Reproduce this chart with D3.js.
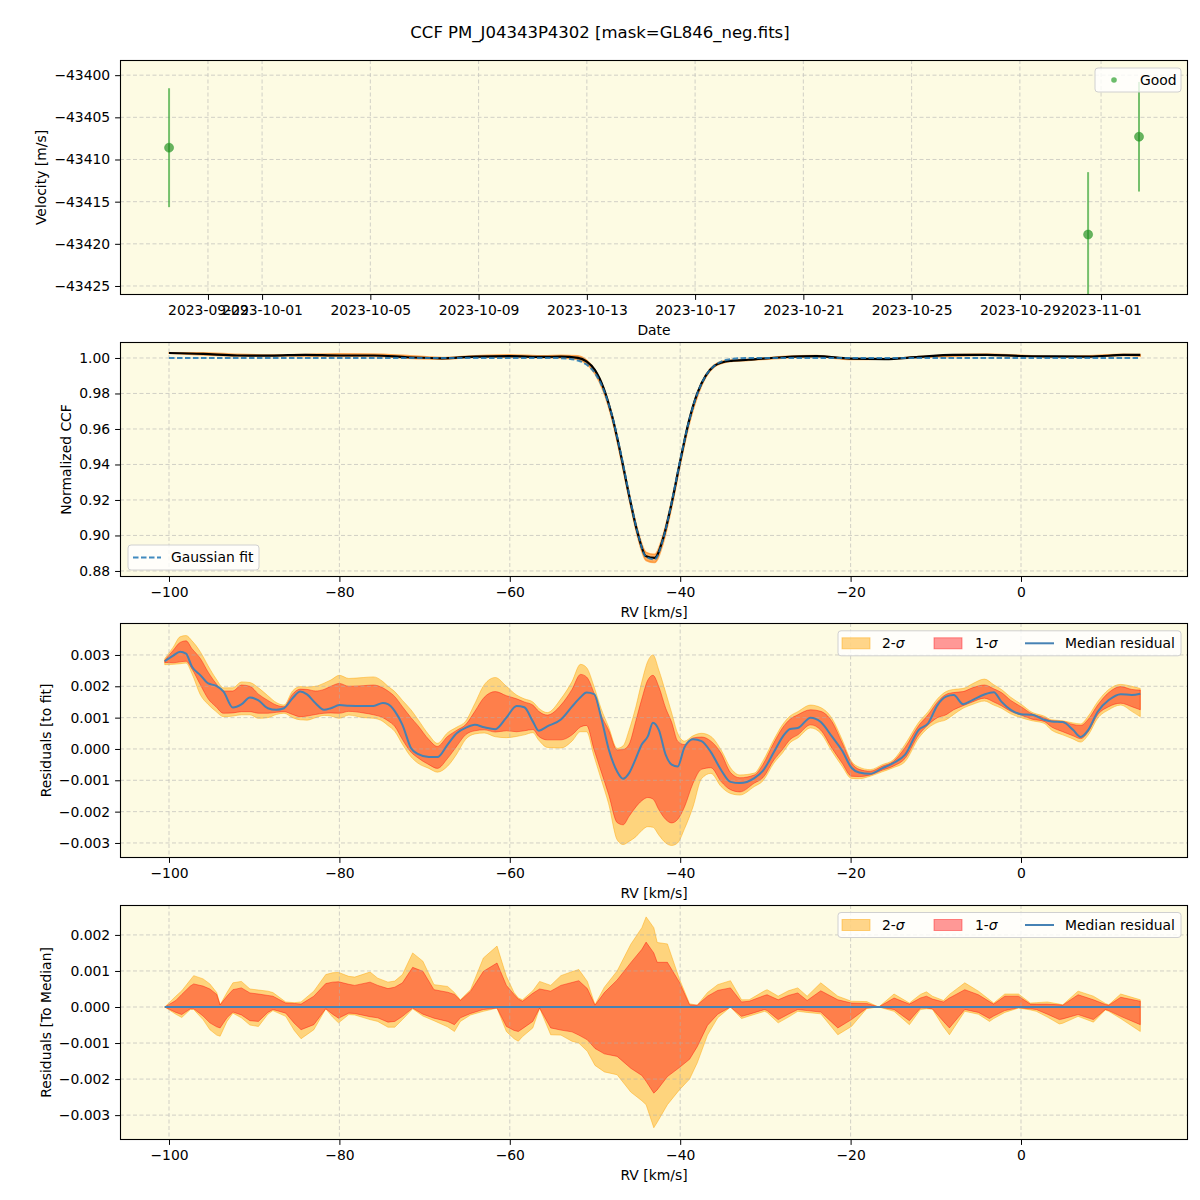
<!DOCTYPE html>
<html><head><meta charset="utf-8">
<script src="https://cdn.jsdelivr.net/npm/d3@7"></script>
<style>
body{margin:0;background:#fff}
text{font-family:"DejaVu Sans",sans-serif}
</style>
</head><body>
<svg id="c" width="1200" height="1200"></svg>
<script>
// ---------------- DATA ----------------
const titleText = "CCF PM_J04343P4302 [mask=GL846_neg.fits]";

// Panel 1: velocity time series
const obsDates = ["2023-09-27T13:30:00Z", "2023-10-31T12:30:00Z", "2023-11-02T09:40:00Z"];
const obsVel = [-43408.6, -43418.9, -43407.3];
const obsErr = [7.05, 7.4, 6.5];
const dateTickLabels = ["2023-09-29","2023-10-01","2023-10-05","2023-10-09","2023-10-13","2023-10-17","2023-10-21","2023-10-25","2023-10-29","2023-11-01"];
const velTicks = [-43400,-43405,-43410,-43415,-43420,-43425];

// Panel 2: CCF
const rvCCF = [-100,-96,-92,-88,-84,-80,-76,-72,-68,-64,-60,-56,
  -54,-52,-51,-50,-49,-48,-47,-46,-45,-44,-43,-42,-41,-40,-39,-38,-37,-36,-35,-34,
  -32,-28,-24,-20,-16,-12,-8,-4,0,4,8,12,14];
const gaussFit = [1,1,1,1,1,1,1,1,1,1,1,1,
  0.9999,0.9986,0.9963,0.9914,0.9822,0.9675,0.9470,0.9234,0.9017,0.8879,0.8866,0.8981,0.9187,0.9424,0.9638,0.9798,0.9900,0.9956,0.9983,0.9994,
  1,1,1,1,1,1,1,1,1,1,1,1,1];
const ccfMedian = [1.0028,1.0023,1.0014,1.0013,1.0018,1.0014,1.0014,1.0004,0.9998,1.0008,1.0010,1.0006,
  1.0008,1.0001,0.9981,0.9932,0.9832,0.9674,0.9462,0.9226,0.9015,0.8883,0.8874,0.8984,0.9183,0.9419,0.9640,0.9801,0.9901,0.9955,0.9976,0.9984,
  0.9990,1.0004,1.0010,0.9996,0.9994,1.0006,1.0017,1.0018,1.0011,1.0009,1.0008,1.0017,1.0018];
const ccfLow = [1.0027,1.0017,1.0011,1.0011,1.0010,1.0010,1.0010,0.9998,0.9993,1.0004,1.0004,1.0001,
  1.0000,0.9992,0.9967,0.9911,0.9810,0.9653,0.9440,0.9206,0.8993,0.8859,0.8847,0.8955,0.9157,0.9396,0.9615,0.9779,0.9891,0.9949,0.9971,0.9980,
  0.9986,0.9999,1.0007,0.9991,0.9994,1.0002,1.0009,1.0015,1.0010,1.0005,1.0005,1.0014,1.0010];
const ccfHigh = [1.0029,1.0030,1.0021,1.0017,1.0020,1.0024,1.0023,1.0014,1.0003,1.0013,1.0018,1.0012,
  1.0016,1.0012,0.9988,0.9933,0.9832,0.9679,0.9471,0.9240,0.9032,0.8905,0.8894,0.9004,0.9198,0.9427,0.9642,0.9803,0.9905,0.9961,0.9983,0.9989,
  0.9991,1.0008,1.0014,0.9996,0.9996,1.0008,1.0018,1.0022,1.0015,1.0009,1.0013,1.0021,1.0019];
const ccfTicks = [0.88,0.90,0.92,0.94,0.96,0.98,1.00];
const rvTicks = [-100,-80,-60,-40,-20,0];

// Panel 3: residuals to fit
const rvRes = [-100.5,-99.5,-98.7,-98.0,-97.3,-96.3,-95.4,-94.5,-93.6,-92.5,
  -91.5,-90.5,-89.5,-88.4,-87.4,-86.5,-85.5,-84.6,-83.8,-82.8,
  -81.8,-81.0,-80.0,-78.9,-77.2,-76.0,-74.9,-74.3,-73.5,-72.6,
  -71.6,-70.8,-69.5,-68.5,-67.3,-66.2,-65.2,-64.1,-63.0,-61.7,
  -60.4,-59.2,-58.3,-57.3,-56.6,-55.6,-54.0,-52.7,-51.7,-51.0,
  -50.1,-49.3,-48.4,-47.4,-46.7,-46.0,-45.2,-44.5,-43.8,-43.2,
  -42.5,-41.7,-41.0,-40.3,-39.5,-38.5,-37.5,-36.4,-35.2,-34.1,
  -33.0,-31.3,-30.3,-29.0,-28.0,-27.1,-26.2,-24.7,-23.5,-22.2,
  -21.0,-19.9,-19.0,-17.7,-16.3,-15.0,-13.6,-12.0,-10.9,-9.8,
  -8.8,-7.9,-6.8,-5.7,-4.3,-3.2,-2.3,-1.2,0.0,1.3,
  2.7,3.6,4.9,6.1,7.0,7.9,9.0,10.3,11.7,13.0,
  14.0];
const resMedian = [2.80e-3,2.98e-3,3.10e-3,3.04e-3,2.62e-3,2.35e-3,2.09e-3,2.02e-3,1.83e-3,1.32e-3,
  1.42e-3,1.64e-3,1.55e-3,1.30e-3,1.25e-3,1.30e-3,1.62e-3,1.83e-3,1.74e-3,1.46e-3,
  1.25e-3,1.30e-3,1.40e-3,1.38e-3,1.37e-3,1.37e-3,1.47e-3,1.43e-3,1.21e-3,0.77e-3,
  0.03e-3,-0.16e-3,-0.26e-3,-0.26e-3,0.14e-3,0.51e-3,0.67e-3,0.77e-3,0.69e-3,0.63e-3,
  1.00e-3,1.37e-3,1.33e-3,0.88e-3,0.58e-3,0.72e-3,0.94e-3,1.35e-3,1.65e-3,1.80e-3,
  1.75e-3,1.03e-3,0.00e-3,-0.72e-3,-0.95e-3,-0.77e-3,-0.30e-3,0.15e-3,0.40e-3,0.84e-3,
  0.60e-3,-0.19e-3,-0.50e-3,-0.56e-3,0.05e-3,0.31e-3,0.25e-3,-0.10e-3,-0.67e-3,-1.05e-3,
  -1.09e-3,-0.93e-3,-0.70e-3,-0.10e-3,0.38e-3,0.64e-3,0.67e-3,1.00e-3,0.86e-3,0.40e-3,
  -0.05e-3,-0.60e-3,-0.75e-3,-0.79e-3,-0.62e-3,-0.45e-3,-0.18e-3,0.61e-3,0.82e-3,1.40e-3,
  1.67e-3,1.72e-3,1.43e-3,1.56e-3,1.74e-3,1.81e-3,1.51e-3,1.25e-3,1.11e-3,1.09e-3,
  0.93e-3,0.88e-3,0.86e-3,0.61e-3,0.38e-3,0.61e-3,1.19e-3,1.56e-3,1.75e-3,1.72e-3,
  1.76e-3];
const res1Low = [2.76e-3,2.75e-3,2.78e-3,2.80e-3,2.55e-3,2.04e-3,1.60e-3,1.35e-3,1.14e-3,1.15e-3,
  1.19e-3,1.19e-3,1.14e-3,1.14e-3,1.17e-3,1.19e-3,1.10e-3,1.03e-3,1.05e-3,1.10e-3,
  1.14e-3,1.15e-3,1.14e-3,1.20e-3,1.15e-3,1.09e-3,1.00e-3,0.90e-3,0.72e-3,0.30e-3,
  -0.10e-3,-0.28e-3,-0.50e-3,-0.62e-3,-0.30e-3,0.10e-3,0.45e-3,0.58e-3,0.61e-3,0.54e-3,
  0.58e-3,0.55e-3,0.58e-3,0.62e-3,0.40e-3,0.29e-3,0.29e-3,0.45e-3,0.70e-3,0.75e-3,
  -0.03e-3,-0.70e-3,-1.45e-3,-2.35e-3,-2.42e-3,-2.15e-3,-1.85e-3,-1.65e-3,-1.55e-3,-1.60e-3,
  -1.94e-3,-2.25e-3,-2.36e-3,-2.25e-3,-1.85e-3,-1.10e-3,-0.65e-3,-0.60e-3,-1.04e-3,-1.30e-3,
  -1.37e-3,-1.09e-3,-0.92e-3,-0.35e-3,-0.02e-3,0.30e-3,0.45e-3,0.77e-3,0.60e-3,0.03e-3,
  -0.45e-3,-0.87e-3,-0.88e-3,-0.83e-3,-0.68e-3,-0.55e-3,-0.30e-3,0.45e-3,0.77e-3,1.00e-3,
  1.09e-3,1.25e-3,1.38e-3,1.50e-3,1.62e-3,1.50e-3,1.38e-3,1.20e-3,1.08e-3,0.95e-3,
  0.88e-3,0.70e-3,0.55e-3,0.42e-3,0.33e-3,0.55e-3,1.09e-3,1.35e-3,1.46e-3,1.35e-3,
  1.25e-3];
const res1High = [2.83e-3,3.15e-3,3.40e-3,3.45e-3,3.20e-3,2.88e-3,2.45e-3,2.10e-3,1.85e-3,1.85e-3,
  2.04e-3,2.00e-3,1.75e-3,1.55e-3,1.40e-3,1.35e-3,1.75e-3,1.91e-3,1.90e-3,1.85e-3,
  1.90e-3,2.00e-3,2.09e-3,2.00e-3,2.02e-3,2.04e-3,1.95e-3,1.85e-3,1.67e-3,1.35e-3,
  1.00e-3,0.75e-3,0.30e-3,0.08e-3,0.40e-3,0.60e-3,0.77e-3,1.20e-3,1.65e-3,1.83e-3,
  1.70e-3,1.60e-3,1.50e-3,1.40e-3,1.20e-3,1.08e-3,1.40e-3,1.90e-3,2.38e-3,2.30e-3,
  1.77e-3,1.10e-3,0.60e-3,-0.03e-3,-0.02e-3,0.15e-3,0.90e-3,1.60e-3,2.20e-3,2.35e-3,
  1.98e-3,1.30e-3,0.85e-3,0.25e-3,0.14e-3,0.35e-3,0.38e-3,0.25e-3,-0.14e-3,-0.75e-3,
  -0.92e-3,-0.83e-3,-0.50e-3,0.20e-3,0.67e-3,0.95e-3,1.09e-3,1.25e-3,1.20e-3,0.88e-3,
  0.20e-3,-0.44e-3,-0.65e-3,-0.71e-3,-0.55e-3,-0.40e-3,0.05e-3,0.75e-3,1.09e-3,1.50e-3,
  1.74e-3,1.80e-3,1.83e-3,1.95e-3,2.04e-3,1.92e-3,1.80e-3,1.55e-3,1.35e-3,1.12e-3,
  1.00e-3,0.90e-3,0.88e-3,0.78e-3,0.75e-3,0.95e-3,1.40e-3,1.80e-3,1.99e-3,1.90e-3,
  1.88e-3];
const res2Low = [2.69e-3,2.70e-3,2.72e-3,2.74e-3,2.40e-3,1.72e-3,1.42e-3,1.20e-3,1.03e-3,1.05e-3,
  1.09e-3,1.09e-3,0.98e-3,1.00e-3,1.10e-3,1.14e-3,1.00e-3,0.93e-3,0.92e-3,1.00e-3,
  1.07e-3,1.05e-3,0.98e-3,1.08e-3,1.00e-3,0.98e-3,0.88e-3,0.75e-3,0.56e-3,0.15e-3,
  -0.25e-3,-0.45e-3,-0.62e-3,-0.74e-3,-0.55e-3,-0.15e-3,0.30e-3,0.48e-3,0.51e-3,0.39e-3,
  0.36e-3,0.40e-3,0.45e-3,0.52e-3,0.28e-3,0.05e-3,0.03e-3,0.25e-3,0.55e-3,0.55e-3,
  -0.24e-3,-0.95e-3,-1.75e-3,-2.90e-3,-3.05e-3,-2.95e-3,-2.80e-3,-2.60e-3,-2.48e-3,-2.50e-3,
  -2.75e-3,-3.00e-3,-3.08e-3,-3.00e-3,-2.55e-3,-1.85e-3,-0.95e-3,-0.78e-3,-1.20e-3,-1.42e-3,
  -1.47e-3,-1.20e-3,-1.02e-3,-0.45e-3,-0.13e-3,0.20e-3,0.35e-3,0.67e-3,0.50e-3,-0.07e-3,
  -0.55e-3,-0.94e-3,-0.95e-3,-0.87e-3,-0.73e-3,-0.60e-3,-0.40e-3,0.35e-3,0.67e-3,0.85e-3,
  0.93e-3,1.10e-3,1.30e-3,1.42e-3,1.53e-3,1.40e-3,1.30e-3,1.12e-3,1.00e-3,0.90e-3,
  0.82e-3,0.60e-3,0.45e-3,0.32e-3,0.22e-3,0.45e-3,0.98e-3,1.25e-3,1.40e-3,1.20e-3,
  1.03e-3];
const res2High = [2.88e-3,3.25e-3,3.58e-3,3.62e-3,3.45e-3,3.09e-3,2.65e-3,2.25e-3,1.95e-3,1.95e-3,
  2.14e-3,2.12e-3,1.95e-3,1.70e-3,1.48e-3,1.40e-3,1.85e-3,1.99e-3,1.98e-3,2.00e-3,
  2.10e-3,2.20e-3,2.35e-3,2.25e-3,2.28e-3,2.30e-3,2.15e-3,2.00e-3,1.83e-3,1.55e-3,
  1.25e-3,0.95e-3,0.45e-3,0.18e-3,0.52e-3,0.70e-3,0.88e-3,1.45e-3,2.05e-3,2.28e-3,
  2.00e-3,1.72e-3,1.60e-3,1.50e-3,1.30e-3,1.16e-3,1.60e-3,2.15e-3,2.70e-3,2.60e-3,
  1.98e-3,1.30e-3,0.70e-3,0.02e-3,0.10e-3,0.60e-3,1.35e-3,2.15e-3,2.80e-3,3.00e-3,
  2.51e-3,1.80e-3,1.15e-3,0.50e-3,0.25e-3,0.42e-3,0.50e-3,0.40e-3,-0.03e-3,-0.60e-3,
  -0.83e-3,-0.77e-3,-0.39e-3,0.30e-3,0.77e-3,1.05e-3,1.19e-3,1.40e-3,1.32e-3,0.98e-3,
  0.30e-3,-0.39e-3,-0.58e-3,-0.66e-3,-0.50e-3,-0.35e-3,0.15e-3,0.85e-3,1.19e-3,1.60e-3,
  1.83e-3,1.90e-3,1.93e-3,2.08e-3,2.23e-3,2.05e-3,1.90e-3,1.65e-3,1.43e-3,1.17e-3,
  1.05e-3,0.93e-3,0.90e-3,0.83e-3,0.80e-3,1.05e-3,1.51e-3,1.90e-3,2.06e-3,2.00e-3,
  1.93e-3];
const resTicks = [-0.003,-0.002,-0.001,0,0.001,0.002,0.003];

// Panel 4: residuals to median
const rvMed = [-100.5,-99.2,-98.5,-97.5,-97.1,-96.0,-95.2,-94.4,-94.0,-93.2,
  -92.5,-91.5,-90.5,-89.5,-88.4,-87.8,-86.3,-85.3,-84.5,-83.0,
  -81.6,-80.8,-80.1,-78.9,-78.2,-76.4,-75.5,-74.3,-73.5,-72.6,
  -71.4,-70.2,-68.9,-67.3,-66.5,-65.8,-64.6,-63.1,-61.5,-60.4,
  -59.5,-59.0,-58.5,-57.3,-56.5,-55.2,-54.0,-52.7,-51.9,-50.9,
  -50.0,-48.9,-47.4,-45.8,-44.5,-44.0,-43.1,-42.7,-41.5,-40.1,
  -38.9,-38.0,-36.8,-35.6,-34.1,-32.8,-31.9,-30.1,-29.8,-28.5,
  -27.3,-26.2,-25.1,-23.5,-21.5,-19.9,-18.1,-16.7,-14.9,-13.1,
  -11.8,-11.1,-10.4,-9.1,-8.4,-6.6,-5.0,-3.7,-3.2,-1.9,
  -0.3,1.1,1.8,3.1,4.5,4.9,6.7,8.5,9.9,10.3,
  11.7,14.0];
const med2High = [0,0.30e-3,0.45e-3,0.75e-3,0.87e-3,0.78e-3,0.64e-3,0.40e-3,0.06e-3,0.40e-3,
  0.67e-3,0.71e-3,0.50e-3,0.47e-3,0.44e-3,0.40e-3,0.14e-3,0.12e-3,0.14e-3,0.44e-3,
  0.90e-3,0.95e-3,0.96e-3,0.85e-3,0.83e-3,0.97e-3,0.80e-3,0.69e-3,0.72e-3,0.90e-3,
  1.50e-3,1.27e-3,0.62e-3,0.57e-3,0.40e-3,0.20e-3,0.48e-3,1.36e-3,1.69e-3,0.85e-3,
  0.40e-3,0.25e-3,0.20e-3,0.45e-3,0.71e-3,0.60e-3,0.87e-3,0.98e-3,1.04e-3,0.71e-3,
  0.06e-3,0.55e-3,1.00e-3,1.74e-3,2.20e-3,2.50e-3,2.20e-3,1.79e-3,1.75e-3,0.78e-3,
  0.09e-3,0.05e-3,0.40e-3,0.62e-3,0.73e-3,0.20e-3,0.20e-3,0.45e-3,0.48e-3,0.30e-3,
  0.45e-3,0.53e-3,0.30e-3,0.67e-3,0.30e-3,0.16e-3,0.15e-3,0,0.36e-3,0.11e-3,
  0.35e-3,0.42e-3,0.30e-3,0.18e-3,0.35e-3,0.67e-3,0.44e-3,0.20e-3,0.11e-3,0.36e-3,
  0.36e-3,0.11e-3,0.12e-3,0.14e-3,0.08e-3,0.06e-3,0.44e-3,0.30e-3,0.10e-3,0.06e-3,
  0.36e-3,0.20e-3];
const med1High = [0,0.18e-3,0.35e-3,0.58e-3,0.64e-3,0.58e-3,0.50e-3,0.35e-3,0.06e-3,0.30e-3,
  0.48e-3,0.53e-3,0.39e-3,0.36e-3,0.32e-3,0.30e-3,0.11e-3,0.10e-3,0.08e-3,0.30e-3,
  0.65e-3,0.69e-3,0.70e-3,0.63e-3,0.60e-3,0.69e-3,0.60e-3,0.51e-3,0.55e-3,0.67e-3,
  1.10e-3,0.99e-3,0.48e-3,0.41e-3,0.35e-3,0.18e-3,0.44e-3,0.99e-3,1.22e-3,0.60e-3,
  0.35e-3,0.22e-3,0.16e-3,0.38e-3,0.50e-3,0.44e-3,0.60e-3,0.68e-3,0.73e-3,0.51e-3,
  0.05e-3,0.40e-3,0.75e-3,1.23e-3,1.60e-3,1.80e-3,1.50e-3,1.24e-3,1.24e-3,0.69e-3,
  0.06e-3,0.05e-3,0.30e-3,0.46e-3,0.53e-3,0.14e-3,0.16e-3,0.32e-3,0.34e-3,0.20e-3,
  0.32e-3,0.39e-3,0.18e-3,0.45e-3,0.20e-3,0.11e-3,0.10e-3,0,0.25e-3,0.08e-3,
  0.25e-3,0.30e-3,0.22e-3,0.14e-3,0.25e-3,0.48e-3,0.34e-3,0.15e-3,0.08e-3,0.30e-3,
  0.30e-3,0.08e-3,0.08e-3,0.08e-3,0.06e-3,0.05e-3,0.34e-3,0.20e-3,0.07e-3,0.05e-3,
  0.27e-3,0.16e-3];
const med1Low = [0,-0.15e-3,-0.21e-3,-0.05e-3,-0.05e-3,-0.25e-3,-0.44e-3,-0.55e-3,-0.58e-3,-0.30e-3,
  -0.14e-3,-0.22e-3,-0.38e-3,-0.40e-3,-0.15e-3,-0.07e-3,-0.17e-3,-0.45e-3,-0.63e-3,-0.49e-3,
  -0.05e-3,-0.20e-3,-0.31e-3,-0.17e-3,-0.18e-3,-0.27e-3,-0.30e-3,-0.42e-3,-0.40e-3,-0.26e-3,
  -0.03e-3,-0.20e-3,-0.31e-3,-0.40e-3,-0.49e-3,-0.30e-3,-0.18e-3,-0.07e-3,-0.03e-3,-0.54e-3,
  -0.65e-3,-0.68e-3,-0.60e-3,-0.40e-3,-0.03e-3,-0.58e-3,-0.64e-3,-0.69e-3,-0.78e-3,-0.91e-3,
  -1.15e-3,-1.30e-3,-1.37e-3,-1.70e-3,-1.90e-3,-2.06e-3,-2.39e-3,-2.30e-3,-1.93e-3,-1.68e-3,
  -1.45e-3,-1.10e-3,-0.51e-3,-0.20e-3,0,-0.26e-3,-0.20e-3,-0.07e-3,-0.10e-3,-0.35e-3,
  -0.20e-3,-0.07e-3,-0.10e-3,-0.14e-3,-0.58e-3,-0.35e-3,-0.03e-3,0,-0.07e-3,-0.38e-3,
  -0.03e-3,-0.03e-3,-0.05e-3,-0.40e-3,-0.58e-3,-0.07e-3,-0.15e-3,-0.32e-3,-0.25e-3,-0.10e-3,
  -0.02e-3,-0.05e-3,-0.07e-3,-0.20e-3,-0.35e-3,-0.33e-3,-0.21e-3,-0.35e-3,-0.07e-3,-0.10e-3,
  -0.26e-3,-0.49e-3];
const med2Low = [0,-0.20e-3,-0.29e-3,-0.07e-3,-0.07e-3,-0.35e-3,-0.63e-3,-0.78e-3,-0.81e-3,-0.40e-3,
  -0.17e-3,-0.30e-3,-0.50e-3,-0.54e-3,-0.20e-3,-0.10e-3,-0.26e-3,-0.65e-3,-0.88e-3,-0.63e-3,
  -0.05e-3,-0.28e-3,-0.44e-3,-0.21e-3,-0.22e-3,-0.35e-3,-0.40e-3,-0.56e-3,-0.56e-3,-0.35e-3,
  -0.05e-3,-0.25e-3,-0.38e-3,-0.55e-3,-0.68e-3,-0.40e-3,-0.22e-3,-0.12e-3,-0.03e-3,-0.68e-3,
  -0.88e-3,-0.95e-3,-0.82e-3,-0.58e-3,-0.03e-3,-0.77e-3,-0.78e-3,-0.95e-3,-1.00e-3,-1.23e-3,
  -1.62e-3,-1.80e-3,-1.88e-3,-2.36e-3,-2.60e-3,-2.71e-3,-3.35e-3,-3.20e-3,-2.71e-3,-2.30e-3,
  -2.00e-3,-1.55e-3,-0.78e-3,-0.30e-3,0,-0.32e-3,-0.25e-3,-0.12e-3,-0.15e-3,-0.44e-3,
  -0.28e-3,-0.12e-3,-0.15e-3,-0.19e-3,-0.77e-3,-0.54e-3,-0.04e-3,0,-0.12e-3,-0.49e-3,
  -0.07e-3,-0.05e-3,-0.06e-3,-0.55e-3,-0.77e-3,-0.12e-3,-0.20e-3,-0.40e-3,-0.32e-3,-0.15e-3,
  -0.03e-3,-0.08e-3,-0.12e-3,-0.28e-3,-0.47e-3,-0.45e-3,-0.26e-3,-0.42e-3,-0.08e-3,-0.12e-3,
  -0.32e-3,-0.68e-3];
const medLineRV = [-100.5, 14.0];
const medLineVal = [0, 0];
const medTicks = [-0.003,-0.002,-0.001,0,0.001,0.002];

// ---------------- LAYOUT / STYLE ----------------
const L = 120, R = 1188, PH = 235;
const tops = [60, 342, 623, 905];
const BG = "#fdfbe3";
const FS = 13.9;
const svg = d3.select("#c");
const defs = svg.append("defs");

svg.append("text").attr("x", 600).attr("y", 38).attr("text-anchor", "middle")
  .attr("font-size", 16.5).attr("fill", "#000").text(titleText);

function makePanel(i, x, y, xTicks, xFmt, yTicks, yFmt, xLabel, yLabel, yLabelX) {
  const top = tops[i], bottom = top + PH;
  const g = svg.append("g");
  g.append("rect").attr("x", L).attr("y", top).attr("width", R - L).attr("height", PH).attr("fill", BG);
  defs.append("clipPath").attr("id", "clip" + i).append("rect")
    .attr("x", L).attr("y", top).attr("width", R - L).attr("height", PH);
  const fills = g.append("g").attr("clip-path", `url(#clip${i})`);
  const grid = g.append("g").attr("stroke", "#b0b0b0").attr("stroke-width", 0.8)
    .attr("stroke-dasharray", "4,2.5").attr("opacity", 0.7);
  xTicks.forEach(t => grid.append("line").attr("x1", x(t)).attr("x2", x(t)).attr("y1", top).attr("y2", bottom));
  yTicks.forEach(t => grid.append("line").attr("x1", L).attr("x2", R).attr("y1", y(t)).attr("y2", y(t)));
  const lines = g.append("g").attr("clip-path", `url(#clip${i})`);
  const xa = g.append("g").attr("transform", `translate(0,${bottom})`)
    .call(d3.axisBottom(x).tickValues(xTicks).tickFormat(xFmt).tickSize(4.9).tickPadding(4.9));
  const ya = g.append("g").attr("transform", `translate(${L},0)`)
    .call(d3.axisLeft(y).tickValues(yTicks).tickFormat(yFmt).tickSize(4.9).tickPadding(4.9));
  [xa, ya].forEach(a => {
    a.select(".domain").remove();
    a.attr("font-size", FS).attr("font-family", '"DejaVu Sans", sans-serif');
    a.selectAll("line").attr("stroke", "#000").attr("stroke-width", 1);
    a.selectAll("text").attr("fill", "#000");
  });
  g.append("rect").attr("x", L + 0.5).attr("y", top + 0.5).attr("width", R - L - 1).attr("height", PH - 1)
    .attr("fill", "none").attr("stroke", "#000").attr("stroke-width", 1.1);
  g.append("text").attr("x", (L + R) / 2).attr("y", bottom + 40).attr("text-anchor", "middle")
    .attr("font-size", FS).text(xLabel);
  g.append("text").attr("transform", `translate(${yLabelX},${(top + bottom) / 2}) rotate(-90)`)
    .attr("text-anchor", "middle").attr("font-size", FS).text(yLabel);
  return { g, fills, lines, top, bottom };
}

function legendBox(g, x0, y0, w, h) {
  g.append("rect").attr("x", x0).attr("y", y0).attr("width", w).attr("height", h).attr("rx", 3)
    .attr("fill", "#fff").attr("fill-opacity", 0.8).attr("stroke", "#d0d0d0").attr("stroke-width", 1);
}

// ---------------- PANEL 1 ----------------
const parse = d3.utcParse("%Y-%m-%dT%H:%M:%SZ");
const parseDay = d3.utcParse("%Y-%m-%d");
const xT = d3.scaleUtc().domain([parse("2023-09-25T18:00:00Z"), parse("2023-11-04T05:06:00Z")]).range([L, R]);
const yV = d3.scaleLinear().domain([-43426.07, -43398.2]).range([tops[0] + PH, tops[0]]);
const tickDates = dateTickLabels.map(parseDay);
const p1 = makePanel(0, xT, yV, tickDates, d3.utcFormat("%Y-%m-%d"), velTicks, d3.format("d"),
  "Date", "Velocity [m/s]", 46);
const obs = obsDates.map((d, i) => ({ t: parse(d), v: obsVel[i], e: obsErr[i] }));
p1.lines.selectAll(".eb").data(obs).join("line")
  .attr("x1", d => xT(d.t)).attr("x2", d => xT(d.t))
  .attr("y1", d => yV(d.v - d.e)).attr("y2", d => yV(d.v + d.e))
  .attr("stroke", "#2ca02c").attr("stroke-opacity", 0.65).attr("stroke-width", 2);
p1.lines.selectAll(".pt").data(obs).join("circle")
  .attr("cx", d => xT(d.t)).attr("cy", d => yV(d.v)).attr("r", 4.5)
  .attr("fill", "#1a8a1a").attr("fill-opacity", 0.65).attr("stroke", "#2ca02c").attr("stroke-opacity", 0.5);
legendBox(p1.g, 1095, 68, 86, 24);
p1.g.append("circle").attr("cx", 1114).attr("cy", 80).attr("r", 2.8).attr("fill", "#2ca02c").attr("fill-opacity", 0.7);
p1.g.append("text").attr("x", 1140).attr("y", 80).attr("dy", "0.35em").attr("font-size", FS).text("Good");

// ---------------- PANELS 2-4 shared x ----------------
const xDom = [-105.75, 19.6];
const mkX = () => d3.scaleLinear().domain(xDom).range([L, R]);
const fmtRV = d3.format("d");

// ---------------- PANEL 2 ----------------
const x2 = mkX();
const y2 = d3.scaleLinear().domain([0.8766, 1.009]).range([tops[1] + PH, tops[1]]);
const p2 = makePanel(1, x2, y2, rvTicks, fmtRV, ccfTicks, d3.format(".2f"), "RV [km/s]", "Normalized CCF", 71);
const ccfRows = rvCCF.map((v, i) => ({ rv: v, fit: gaussFit[i], med: ccfMedian[i], lo: ccfLow[i], hi: ccfHigh[i] }));
p2.fills.append("path").datum(ccfRows)
  .attr("d", d3.area().x(d => x2(d.rv)).y0(d => y2(d.lo)).y1(d => y2(d.hi)).curve(d3.curveMonotoneX))
  .attr("fill", "#ff7f0e").attr("fill-opacity", 0.6).attr("stroke", "#ff7f0e").attr("stroke-opacity", 0.6).attr("stroke-width", 1.5);
p2.lines.append("path").datum(ccfRows)
  .attr("d", d3.line().x(d => x2(d.rv)).y(d => y2(d.med)).curve(d3.curveMonotoneX))
  .attr("fill", "none").attr("stroke", "#000").attr("stroke-width", 2.2);
p2.lines.append("path").datum(ccfRows)
  .attr("d", d3.line().x(d => x2(d.rv)).y(d => y2(d.fit)).curve(d3.curveMonotoneX))
  .attr("fill", "none").attr("stroke", "#1f77b4").attr("stroke-opacity", 0.85).attr("stroke-width", 2)
  .attr("stroke-dasharray", "5.5,2.5");
legendBox(p2.g, 128, 545, 131, 25);
p2.g.append("line").attr("x1", 133).attr("x2", 161).attr("y1", 557.5).attr("y2", 557.5)
  .attr("stroke", "#1f77b4").attr("stroke-opacity", 0.85).attr("stroke-width", 2).attr("stroke-dasharray", "5.5,2.5");
p2.g.append("text").attr("x", 171).attr("y", 557.5).attr("dy", "0.35em").attr("font-size", FS).text("Gaussian fit");

// ---------------- band drawing helper ----------------
const C2 = "#ffa500", C1 = "#ff0000", CMED = "#4682b4";
function drawBands(p, x, y, rows, curve) {
  p.fills.append("path").datum(rows)
    .attr("d", d3.area().x(d => x(d.rv)).y0(d => y(d.l2)).y1(d => y(d.h2)).curve(curve))
    .attr("fill", C2).attr("fill-opacity", 0.45).attr("stroke", C2).attr("stroke-opacity", 0.45).attr("stroke-width", 1);
  p.fills.append("path").datum(rows)
    .attr("d", d3.area().x(d => x(d.rv)).y0(d => y(d.l1)).y1(d => y(d.h1)).curve(curve))
    .attr("fill", C1).attr("fill-opacity", 0.4).attr("stroke", C1).attr("stroke-opacity", 0.4).attr("stroke-width", 1);
}
function bandLegend(g, yc) {
  legendBox(g, 838, yc - 12.5, 343, 25);
  g.append("rect").attr("x", 842).attr("y", yc - 5.5).attr("width", 28).attr("height", 11)
    .attr("fill", C2).attr("fill-opacity", 0.45).attr("stroke", C2).attr("stroke-opacity", 0.45);
  const t1 = g.append("text").attr("x", 882).attr("y", yc).attr("dy", "0.35em").attr("font-size", FS);
  t1.append("tspan").text("2-");
  t1.append("tspan").attr("font-style", "italic").text("σ");
  g.append("rect").attr("x", 934).attr("y", yc - 5.5).attr("width", 28).attr("height", 11)
    .attr("fill", C1).attr("fill-opacity", 0.4).attr("stroke", C1).attr("stroke-opacity", 0.4);
  const t2 = g.append("text").attr("x", 975).attr("y", yc).attr("dy", "0.35em").attr("font-size", FS);
  t2.append("tspan").text("1-");
  t2.append("tspan").attr("font-style", "italic").text("σ");
  g.append("line").attr("x1", 1025).attr("x2", 1054).attr("y1", yc).attr("y2", yc)
    .attr("stroke", CMED).attr("stroke-width", 2);
  g.append("text").attr("x", 1065).attr("y", yc).attr("dy", "0.35em").attr("font-size", FS).text("Median residual");
}

// ---------------- PANEL 3 ----------------
const x3 = mkX();
const y3 = d3.scaleLinear().domain([-0.00348, 0.00402]).range([tops[2] + PH, tops[2]]);
const p3 = makePanel(2, x3, y3, rvTicks, fmtRV, resTicks, d3.format(".3f"), "RV [km/s]", "Residuals [to fit]", 51);
const resRows = rvRes.map((v, i) => ({ rv: v, med: resMedian[i], l1: res1Low[i], h1: res1High[i], l2: res2Low[i], h2: res2High[i] }));
drawBands(p3, x3, y3, resRows, d3.curveMonotoneX);
p3.lines.append("path").datum(resRows)
  .attr("d", d3.line().x(d => x3(d.rv)).y(d => y3(d.med)).curve(d3.curveMonotoneX))
  .attr("fill", "none").attr("stroke", CMED).attr("stroke-width", 2);
bandLegend(p3.g, 643.3);

// ---------------- PANEL 4 ----------------
const x4 = mkX();
const y4 = d3.scaleLinear().domain([-0.00369, 0.00283]).range([tops[3] + PH, tops[3]]);
const p4 = makePanel(3, x4, y4, rvTicks, fmtRV, medTicks, d3.format(".3f"), "RV [km/s]", "Residuals [To Median]", 51);
const medRows = rvMed.map((v, i) => ({ rv: v, l1: med1Low[i], h1: med1High[i], l2: med2Low[i], h2: med2High[i] }));
drawBands(p4, x4, y4, medRows, d3.curveLinear);
p4.lines.append("path").datum(medLineRV.map((v, i) => ({ rv: v, val: medLineVal[i] })))
  .attr("d", d3.line().x(d => x4(d.rv)).y(d => y4(d.val)))
  .attr("fill", "none").attr("stroke", CMED).attr("stroke-width", 2);
bandLegend(p4.g, 925);
</script>
</body></html>
